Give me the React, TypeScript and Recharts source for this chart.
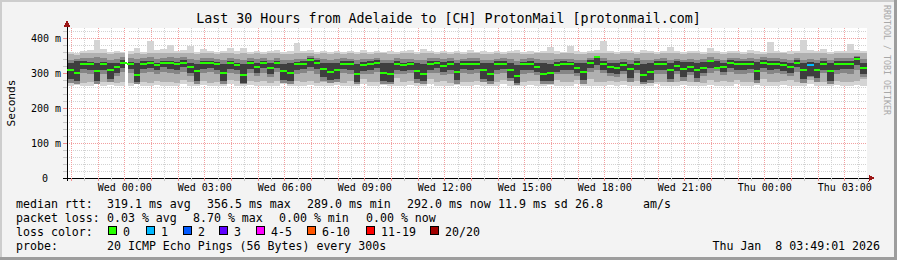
import React from "react";
import {
    ComposedChart,
    Area,
    Scatter,
    XAxis,
    YAxis,
    CartesianGrid,
    ReferenceArea,
} from "recharts";

const W = 897;
const H = 260;
const PLOT = { left: 67, top: 28, right: 867, bottom: 178 };
const FONT = "'DejaVu Sans Mono', monospace";

// time in minutes relative to Wed 00:00 (window is Tue 21:50 .. Thu 03:50)
const START_MIN = -130;
const END_MIN = 1670;
const STEP_MIN = 15;
const Y_MAX = 428.6; // ms

// smoke bands (ms), one value per 15 minute sample
const minPing = [
    264, 266, 262, 263, 268, 262, 265, 262, 264, 262, 270, 262, 263, 266, 262, 264, 262, 268, 262, 263,
    265, 262, 264, 262, 270, 263, 262, 266, 262, 264, 262, 263, 268, 262, 264, 262, 265, 262, 263, 262,
    266, 262, 264, 262, 268, 262, 263, 265, 262, 264, 262, 266, 262, 263, 268, 262, 264, 262, 265, 262,
    263, 266, 262, 264, 262, 268, 262, 263, 262, 265, 262, 264, 266, 262, 263, 262, 268, 262, 264, 262,
    263, 265, 262, 266, 262, 264, 262, 263, 268, 262, 264, 262, 265, 262, 263, 262, 266, 262, 264, 262,
    268, 262, 263, 265, 262, 264, 262, 266, 262, 263, 262, 268, 262, 264, 262, 265, 262, 263, 266, 262,
];
const maxPing = [
    360, 358, 362, 365, 394, 368, 360, 362, 360, 364, 372, 360, 392, 366, 368, 380, 362, 366, 377, 360,
    370, 362, 360, 364, 372, 362, 371, 360, 364, 360, 362, 366, 360, 362, 385, 362, 366, 360, 362, 360,
    364, 360, 362, 360, 366, 360, 364, 360, 362, 360, 362, 366, 360, 368, 362, 360, 364, 360, 362, 360,
    366, 360, 362, 360, 364, 360, 362, 366, 360, 362, 360, 364, 375, 362, 360, 378, 362, 360, 364, 366,
    392, 362, 360, 364, 362, 360, 366, 362, 360, 364, 375, 362, 360, 364, 362, 360, 372, 362, 360, 364,
    362, 360, 366, 362, 360, 389, 362, 360, 364, 362, 394, 366, 362, 369, 360, 362, 364, 383, 366, 362,
];
const lowOuter = [
    274, 278, 272, 275, 280, 273, 276, 272, 274, 271, 282, 273, 272, 277, 273, 275, 272, 279, 274, 276,
    278, 272, 275, 274, 281, 276, 283, 277, 273, 278, 272, 276, 280, 284, 277, 273, 276, 272, 275, 273,
    277, 272, 276, 280, 282, 274, 275, 278, 282, 285, 273, 278, 274, 280, 282, 273, 276, 272, 283, 274,
    275, 278, 281, 284, 273, 279, 276, 284, 274, 277, 276, 283, 285, 281, 275, 273, 280, 282, 284, 273,
    275, 278, 273, 277, 274, 278, 276, 284, 275, 273, 276, 274, 279, 273, 276, 272, 280, 274, 277, 273,
    280, 273, 275, 278, 282, 274, 273, 277, 280, 275, 282, 279, 283, 274, 284, 276, 273, 275, 278, 282,
];
const highOuter = [
    354, 352, 356, 357, 358, 356, 354, 357, 356, 355, 358, 355, 358, 356, 357, 358, 356, 357, 358, 355,
    357, 356, 355, 356, 358, 355, 357, 354, 356, 355, 356, 357, 355, 354, 358, 356, 357, 355, 356, 354,
    357, 355, 356, 354, 357, 355, 358, 356, 355, 354, 356, 357, 355, 358, 357, 355, 356, 354, 357, 355,
    356, 358, 355, 354, 356, 355, 357, 356, 354, 355, 356, 358, 357, 355, 356, 358, 355, 354, 357, 358,
    358, 356, 355, 357, 356, 354, 356, 357, 355, 356, 358, 356, 355, 357, 356, 355, 357, 356, 355, 357,
    356, 355, 357, 354, 355, 358, 356, 357, 355, 356, 358, 357, 356, 358, 355, 356, 357, 358, 358, 356,
];
const lowMid = [
    272, 270, 300, 298, 270, 298, 274, 292, 302, 300, 268, 300, 302, 298, 303, 300, 298, 302, 292, 270,
    300, 302, 298, 270, 301, 297, 268, 300, 292, 300, 290, 302, 272, 270, 298, 300, 305, 298, 276, 272,
    274, 300, 298, 268, 296, 298, 302, 270, 268, 298, 296, 299, 272, 268, 299, 300, 293, 298, 270, 300,
    298, 300, 274, 268, 298, 300, 276, 266, 298, 300, 295, 268, 270, 296, 298, 298, 292, 270, 302, 310,
    299, 292, 290, 296, 274, 299, 268, 272, 298, 298, 274, 298, 276, 294, 274, 292, 300, 305, 294, 302,
    298, 298, 300, 272, 303, 298, 300, 296, 292, 302, 272, 290, 274, 300, 270, 298, 299, 298, 310, 290,
];
const highMid = [
    338, 340, 342, 343, 345, 342, 338, 340, 345, 342, 340, 343, 345, 340, 344, 346, 343, 345, 340, 337,
    342, 344, 341, 338, 343, 340, 337, 342, 340, 343, 338, 344, 336, 338, 340, 341, 348, 343, 340, 338,
    339, 342, 341, 337, 340, 341, 344, 338, 336, 342, 340, 341, 338, 336, 342, 343, 340, 342, 338, 341,
    342, 343, 338, 337, 341, 342, 340, 335, 341, 342, 340, 338, 336, 340, 341, 340, 338, 337, 342, 350,
    342, 338, 336, 340, 337, 342, 336, 338, 341, 342, 338, 340, 338, 340, 338, 339, 345, 340, 338, 344,
    342, 341, 342, 339, 345, 342, 342, 340, 338, 343, 338, 340, 336, 342, 338, 342, 342, 342, 350, 340,
];
const lowCore = [
    282, 276, 312, 310, 278, 308, 284, 300, 315, 312, 274, 312, 314, 308, 316, 312, 310, 316, 300, 278,
    312, 314, 310, 276, 312, 308, 272, 312, 300, 314, 298, 314, 280, 276, 308, 312, 318, 312, 288, 280,
    284, 312, 310, 275, 306, 308, 314, 278, 274, 310, 306, 308, 282, 276, 310, 314, 302, 310, 280, 312,
    308, 312, 284, 276, 310, 312, 286, 272, 308, 310, 304, 276, 278, 304, 310, 308, 300, 280, 315, 322,
    310, 300, 298, 306, 285, 310, 274, 280, 308, 308, 284, 306, 288, 302, 286, 300, 315, 318, 302, 314,
    310, 310, 312, 280, 314, 308, 312, 306, 300, 316, 284, 292, 286, 310, 278, 310, 312, 312, 322, 296,
];
const highCore = [
    328, 334, 333, 332, 330, 331, 328, 330, 336, 332, 330, 334, 335, 330, 335, 334, 332, 336, 330, 326,
    334, 335, 332, 326, 334, 330, 325, 334, 330, 333, 328, 335, 326, 328, 332, 334, 344, 336, 330, 328,
    330, 334, 333, 326, 332, 333, 336, 330, 328, 334, 330, 332, 328, 326, 333, 335, 332, 334, 328, 333,
    334, 335, 330, 328, 333, 334, 330, 324, 332, 334, 330, 328, 325, 332, 333, 332, 330, 328, 336, 350,
    334, 330, 328, 332, 326, 334, 326, 330, 333, 334, 330, 333, 332, 332, 330, 332, 338, 334, 330, 336,
    334, 334, 334, 332, 338, 334, 334, 332, 330, 336, 330, 332, 330, 334, 328, 334, 334, 334, 346, 330,
];
const median = [
    310, 300, 327, 327, 305, 325, 309, 318, 330, 326, 295, 327, 328, 323, 329, 328, 326, 330, 318, 305,
    328, 329, 326, 300, 328, 323, 294, 328, 318, 328, 315, 329, 305, 300, 325, 327, 338, 329, 312, 304,
    310, 327, 326, 298, 323, 325, 330, 300, 296, 326, 322, 325, 305, 298, 326, 328, 320, 326, 303, 327,
    325, 326, 308, 298, 325, 327, 310, 292, 325, 326, 318, 298, 300, 322, 326, 325, 315, 302, 330, 345,
    326, 316, 315, 322, 312, 325, 295, 303, 325, 325, 310, 320, 312, 318, 310, 315, 333, 314, 316, 330,
    325, 325, 325, 305, 330, 325, 325, 322, 318, 328, 310, 323, 310, 325, 305, 325, 325, 325, 340, 315,
];
const lostPings = [
    0, 0, 0, 0, 0, 0, 0, 0, 0, 0, 0, 0, 0, 0, 0, 0, 0, 0, 0, 0,
    0, 0, 0, 0, 0, 0, 0, 0, 0, 0, 0, 0, 0, 0, 0, 0, 0, 0, 0, 0,
    0, 0, 0, 0, 0, 0, 0, 0, 0, 0, 0, 0, 0, 0, 0, 0, 0, 0, 0, 0,
    0, 0, 0, 0, 0, 0, 0, 0, 0, 0, 0, 0, 0, 0, 0, 0, 0, 0, 0, 0,
    0, 0, 0, 0, 0, 0, 0, 0, 0, 0, 0, 0, 0, 0, 0, 0, 0, 0, 0, 0,
    0, 0, 0, 0, 0, 0, 0, 0, 0, 0, 0, 1, 0, 0, 0, 0, 0, 0, 0, 0,
];
// missing data (minutes)
const gaps = [[1, 7]];

const xLabelMinutes = [0, 180, 360, 540, 720, 900, 1080, 1260, 1440, 1620];
const xLabels = [
    "Wed 00:00", "Wed 03:00", "Wed 06:00", "Wed 09:00", "Wed 12:00",
    "Wed 15:00", "Wed 18:00", "Wed 21:00", "Thu 00:00", "Thu 03:00",
];
const yLabelValues = [0, 100, 200, 300, 400];
const yLabels = ["0", "100 m", "200 m", "300 m", "400 m"];

const lossLabels = ["0", "1", "2", "3", "4-5", "6-10", "11-19", "20/20"];
const lossColors = ["#26ff00", "#00b8ff", "#0059ff", "#5e00ff", "#ff00ff", "#ff5500", "#ff0000", "#a00000"];

const SMOKE_COLORS = ["#d4d4d4", "#b0b0b0", "#858585", "#3e3e3e"];
const SAMPLE_PX = ((PLOT.right - PLOT.left) / (END_MIN - START_MIN)) * STEP_MIN;

const xMinor = Array.from({ length: 60 }, (_, k) => -120 + 30 * k);
const xMajor = xMinor.filter((t) => t % 60 === 0);
const yMinor = Array.from({ length: 22 }, (_, k) => 20 * k);
const yMajor = yMinor.filter((v) => v % 100 === 0);

const smokeRows: any[] = median.map((m, i) => ({
    t: START_MIN + i * STEP_MIN,
    b0: [minPing[i], maxPing[i]],
    b1: [lowOuter[i], highOuter[i]],
    b2: [lowMid[i], highMid[i]],
    b3: [lowCore[i], highCore[i]],
}));
// close the last step
smokeRows.push({ ...smokeRows[smokeRows.length - 1], t: END_MIN });

const medianRows = median.map((m, i) => ({
    t: START_MIN + i * STEP_MIN,
    med: m,
    loss: lostPings[i],
}));

function lossColor(n: number) {
    if (n <= 3) return lossColors[n];
    if (n <= 5) return lossColors[4];
    if (n <= 10) return lossColors[5];
    if (n <= 19) return lossColors[6];
    return lossColors[7];
}

function MedianMark(props: any) {
    const { cx, cy, payload } = props;
    if (cx == null || cy == null) return null;
    return <rect x={cx} y={cy - 1} width={SAMPLE_PX} height={2} fill={lossColor(payload.loss)} />;
}

function XTick(props: any) {
    const { x, payload } = props;
    const t = payload.value;
    const idx = xLabelMinutes.indexOf(t);
    return (
        <g>
            <line x1={x} x2={x} y1={PLOT.bottom} y2={PLOT.bottom + 3} stroke={t % 60 === 0 ? "#f09090" : "#c8c8c8"} />
            {idx >= 0 && (
                <text x={x} y={191} textAnchor="middle" fontSize={10} fontFamily={FONT} fill="#000">
                    {xLabels[idx]}
                </text>
            )}
        </g>
    );
}

function YTick(props: any) {
    const { y, payload } = props;
    const v = payload.value;
    const idx = yLabelValues.indexOf(v);
    return (
        <g>
            <line x1={PLOT.left - 4} x2={PLOT.left} y1={y} y2={y} stroke={idx >= 0 ? "#f09090" : "#c8c8c8"} />
            {idx >= 0 && (
                <text x={v === 0 ? 48 : 61} y={y + 3.5} textAnchor="end" fontSize={10} fontFamily={FONT} fill="#000">
                    {yLabels[idx]}
                </text>
            )}
        </g>
    );
}

const legendRtt = [
    { x: 16, s: "median rtt:" },
    { x: 107, s: "319.1 ms avg" },
    { x: 207, s: "356.5 ms max" },
    { x: 307, s: "289.0 ms min" },
    { x: 407, s: "292.0 ms now" },
    { x: 498, s: "11.9 ms sd" },
    { x: 575, s: "26.8" },
    { x: 643, s: "am/s" },
];
const legendLoss = [
    { x: 16, s: "packet loss:" },
    { x: 107, s: "0.03 % avg" },
    { x: 193, s: "8.70 % max" },
    { x: 279, s: "0.00 % min" },
    { x: 366, s: "0.00 % now" },
];
const lossBoxX = [108, 146, 183, 219, 256, 307, 366, 430];

export default function App() {
    const legendFont = { fontFamily: FONT, fontSize: 11.6, fill: "#000" };
    return (
        <div style={{ position: "absolute", left: 0, top: 0, width: W, height: H, background: "#f3f3f3", overflow: "hidden", shapeRendering: "crispEdges" } as any}>
            <svg width={W} height={H} style={{ position: "absolute", left: 0, top: 0 }}>
                <rect x={0} y={0} width={W} height={2} fill="#cdcdcd" />
                <rect x={0} y={0} width={2} height={H} fill="#cdcdcd" />
                <rect x={W - 3} y={0} width={3} height={H} fill="#9d9d9d" />
                <rect x={0} y={H - 3} width={W} height={3} fill="#9d9d9d" />
            </svg>
            <div style={{ position: "absolute", left: 0, top: 0 }}>
                <ComposedChart width={W} height={H} data={smokeRows} margin={{ top: 28, right: 30, bottom: 62, left: 7 }}>
                    <CartesianGrid
                        horizontalValues={yMinor}
                        verticalValues={xMinor}
                        stroke="#d2d2d2"
                        strokeDasharray="1 1"
                        fill="#ffffff"
                        fillOpacity={1}
                    />
                    <CartesianGrid
                        horizontalValues={yMajor}
                        verticalValues={xMajor}
                        stroke="#f2a0a0"
                        strokeDasharray="1 1"
                    />
                    <XAxis
                        dataKey="t"
                        type="number"
                        domain={[START_MIN, END_MIN]}
                        allowDataOverflow
                        ticks={xMinor}
                        interval={0}
                        tick={<XTick />}
                        tickLine={false}
                        axisLine={{ stroke: "#000" }}
                        height={20}
                    />
                    <YAxis
                        type="number"
                        domain={[0, Y_MAX]}
                        allowDataOverflow
                        ticks={yMinor}
                        interval={0}
                        tick={<YTick />}
                        tickLine={false}
                        axisLine={{ stroke: "#000" }}
                        width={60}
                    />
                    {["b0", "b1", "b2", "b3"].map((k, i) => (
                        <Area
                            key={k}
                            dataKey={k}
                            type="stepAfter"
                            stroke="none"
                            fill={SMOKE_COLORS[i]}
                            fillOpacity={1}
                            dot={false}
                            activeDot={false}
                            isAnimationActive={false}
                        />
                    ))}
                    {gaps.map((g, i) => (
                        <ReferenceArea key={i} x1={g[0]} x2={g[1]} y1={0} y2={Y_MAX} fill="#ffffff" fillOpacity={1} stroke="none" />
                    ))}
                    <Scatter data={medianRows} dataKey="med" shape={<MedianMark />} isAnimationActive={false} />
                </ComposedChart>
            </div>
            <svg width={W} height={H} style={{ position: "absolute", left: 0, top: 0, pointerEvents: "none" }}>
                {/* axis arrows */}
                <line x1={PLOT.left} x2={PLOT.left} y1={PLOT.top} y2={PLOT.top - 3} stroke="#000" />
                <polygon points="63.5,27 70.5,27 67,20.5" fill="#9c1616" />
                <line x1={PLOT.right} x2={PLOT.right + 2} y1={PLOT.bottom} y2={PLOT.bottom} stroke="#000" />
                <polygon points="868.5,174.5 868.5,181.5 875,178" fill="#9c1616" />
                <line x1={PLOT.left - 4} x2={PLOT.left} y1={PLOT.bottom} y2={PLOT.bottom} stroke="#000" />
                <line x1={PLOT.left} x2={PLOT.left} y1={PLOT.bottom} y2={PLOT.bottom + 3} stroke="#000" />

                <text x={448.5} y={23} textAnchor="middle" fontFamily={FONT} fontSize={13.3} fill="#000">
                    Last 30 Hours from Adelaide to [CH] ProtonMail [protonmail.com]
                </text>
                <text transform="translate(15,103) rotate(-90)" textAnchor="middle" fontFamily={FONT} fontSize={11.2} fill="#000">
                    Seconds
                </text>
                <text
                    transform="translate(884,5) rotate(90)"
                    fontFamily={FONT}
                    fontSize={9}
                    fill="#a8a8a8"
                    textLength={110}
                    lengthAdjust="spacingAndGlyphs"
                >
                    RRDTOOL / TOBI OETIKER
                </text>

                {legendRtt.map((p, i) => (
                    <text key={"r" + i} x={p.x} y={208} style={{ whiteSpace: "pre" }} {...legendFont}>{p.s}</text>
                ))}
                {legendLoss.map((p, i) => (
                    <text key={"l" + i} x={p.x} y={222} style={{ whiteSpace: "pre" }} {...legendFont}>{p.s}</text>
                ))}
                <text x={16} y={236} {...legendFont}>loss color:</text>
                {lossBoxX.map((bx, i) => (
                    <g key={"b" + i}>
                        <rect x={bx + 0.5} y={226.5} width={8} height={8} fill={lossColors[i]} stroke="#000" />
                        <text x={bx + 15} y={236} {...legendFont}>{lossLabels[i]}</text>
                    </g>
                ))}
                <text x={16} y={250} {...legendFont}>probe:</text>
                <text x={107} y={250} {...legendFont}>20 ICMP Echo Pings (56 Bytes) every 300s</text>
                <text x={880} y={250} textAnchor="end" style={{ whiteSpace: "pre" }} {...legendFont}>Thu Jan  8 03:49:01 2026</text>
            </svg>
        </div>
    );
}
